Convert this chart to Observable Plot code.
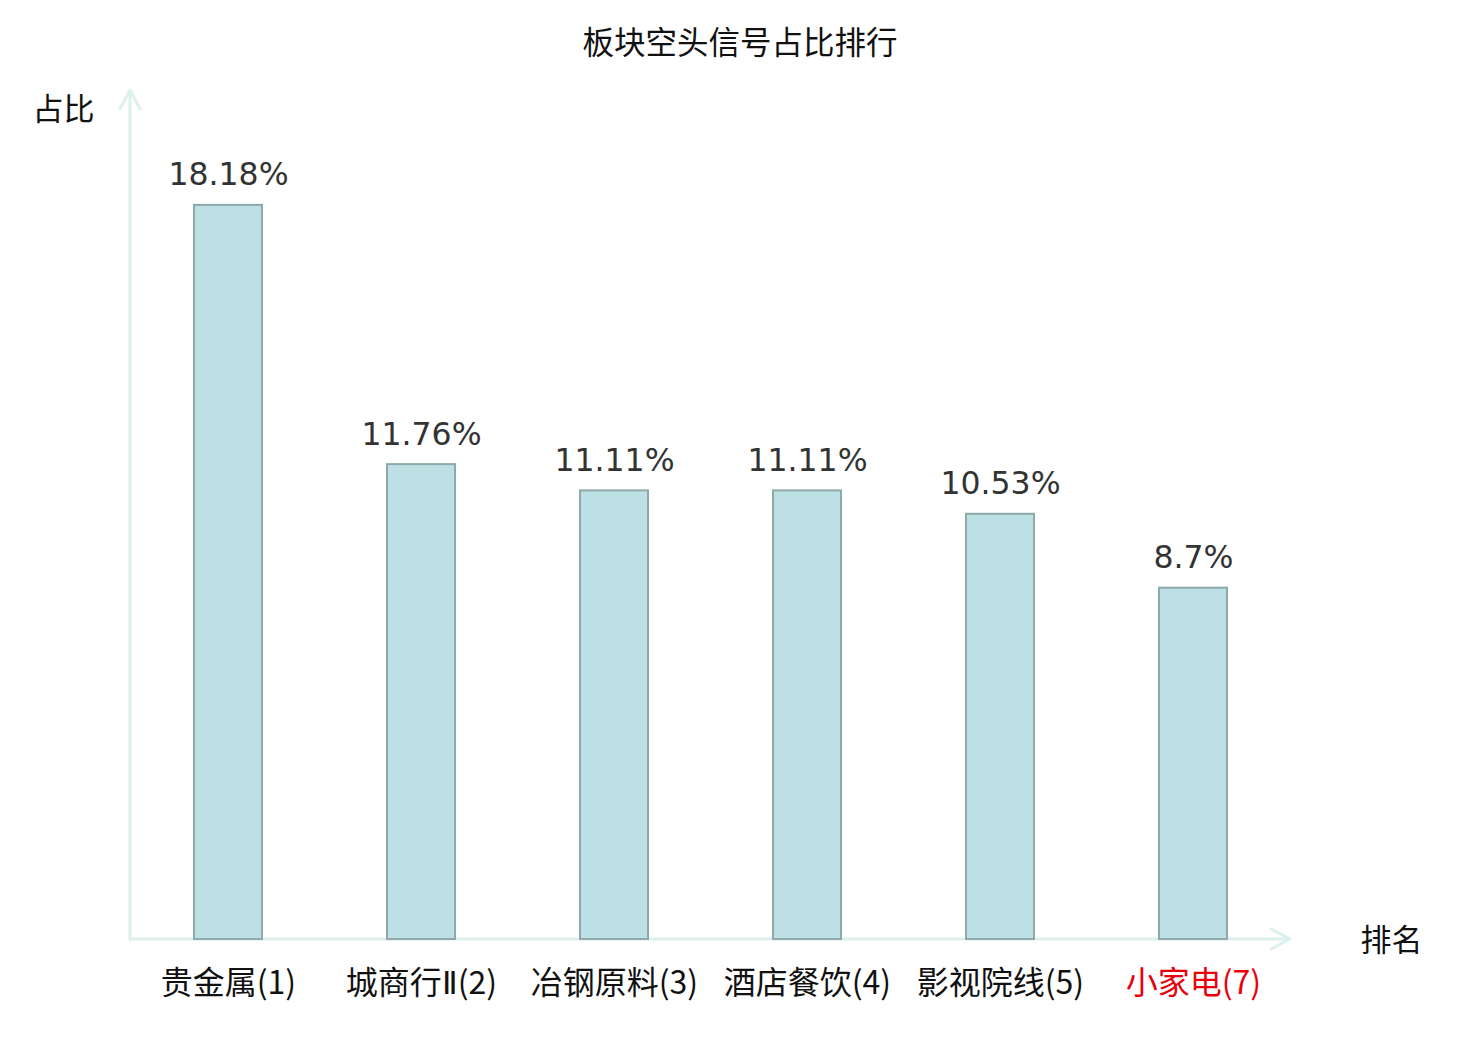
<!DOCTYPE html>
<html>
<head>
<meta charset="utf-8">
<script src="https://cdn.jsdelivr.net/npm/d3@7"></script>
<script src="https://cdn.jsdelivr.net/npm/@observablehq/plot@0.6"></script>
<style>
  @font-face { font-family: "RomanNum"; src: local("DejaVu Sans"); unicode-range: U+2160-2188; }
  html, body { margin: 0; padding: 0; background: #fff; }
  #title { width: 1480px; height: 80px; box-sizing: border-box; padding-top: 0px; line-height: 80px; text-align: center;
           font-family: "Noto Sans CJK SC", sans-serif; font-size: 31.5px; color: #111; }
</style>
</head>
<body>
<div id="title">板块空头信号占比排行</div>
<div id="chart"></div>
<script>
const categories = ["贵金属(1)", "城商行Ⅱ(2)", "冶钢原料(3)", "酒店餐饮(4)", "影视院线(5)", "小家电(7)"];
const values = [18.18, 11.76, 11.11, 11.11, 10.53, 8.7];
const valueLabels = ["18.18%", "11.76%", "11.11%", "11.11%", "10.53%", "8.7%"];
const highlight = "小家电(7)";
const yLabel = "占比";
const xLabel = "排名";

const data = categories.map((c, i) => ({category: c, value: values[i], label: valueLabels[i]}));
const axisColor = "#dcf1ee";

function axes(index, scales, values, dim) {
  const x0 = dim.marginLeft;
  const x1 = dim.width - dim.marginRight;
  const y0 = scales.y(0);
  const top = dim.marginTop - 1;
  const g = d3.create("svg:g");
  g.append("path")
    .attr("d", `M${x0},${y0 + 1}V${top}M${x0 - 10},${top + 19}L${x0},${top}L${x0 + 10},${top + 19}` +
               `M${x0},${y0}H${x1}M${x1 - 19},${y0 - 10}L${x1},${y0}L${x1 - 19},${y0 + 10}`)
    .attr("fill", "none")
    .attr("stroke", axisColor)
    .attr("stroke-width", 3)
    .attr("stroke-linecap", "round")
    .attr("stroke-linejoin", "round");
  return g.node();
}

const cjk = "RomanNum, 'Noto Sans CJK SC', sans-serif";

const chart = Plot.plot({
  width: 1480,
  height: 960,
  marginLeft: 130,
  marginRight: 190,
  marginTop: 11,
  marginBottom: 101,
  style: {fontFamily: cjk, fontSize: "30px", background: "#fff"},
  x: {domain: categories, paddingInner: 0.648, paddingOuter: 0.324, axis: null},
  y: {domain: [0, 21], axis: null},
  marks: [
    axes,
    Plot.barY(data, {x: "category", y: "value", fill: "#bce0e3", stroke: "#8fa9ab", strokeWidth: 2}),
    Plot.text(data, {x: "category", y: "value", text: "label", dy: -30, fill: "#333",
                     fontFamily: "'DejaVu Sans', sans-serif", fontSize: 31.5}),
    Plot.text(data, {x: "category", text: "category", frameAnchor: "bottom", lineAnchor: "middle", dy: 44,
                     fontSize: 32, fontFamily: cjk,
                     fill: d => d.category === highlight ? "#e8000b" : "#111"}),
    Plot.text([yLabel], {text: d => d, frameAnchor: "top-left", textAnchor: "middle", lineAnchor: "middle",
                         dx: -67, dy: 19, fontSize: 31, fill: "#111"}),
    Plot.text([xLabel], {text: d => d, frameAnchor: "bottom-right", textAnchor: "middle", lineAnchor: "middle",
                         dx: 101, dy: 2, fontSize: 31, fill: "#111"})
  ]
});
document.getElementById("chart").appendChild(chart);
</script>
</body>
</html>
